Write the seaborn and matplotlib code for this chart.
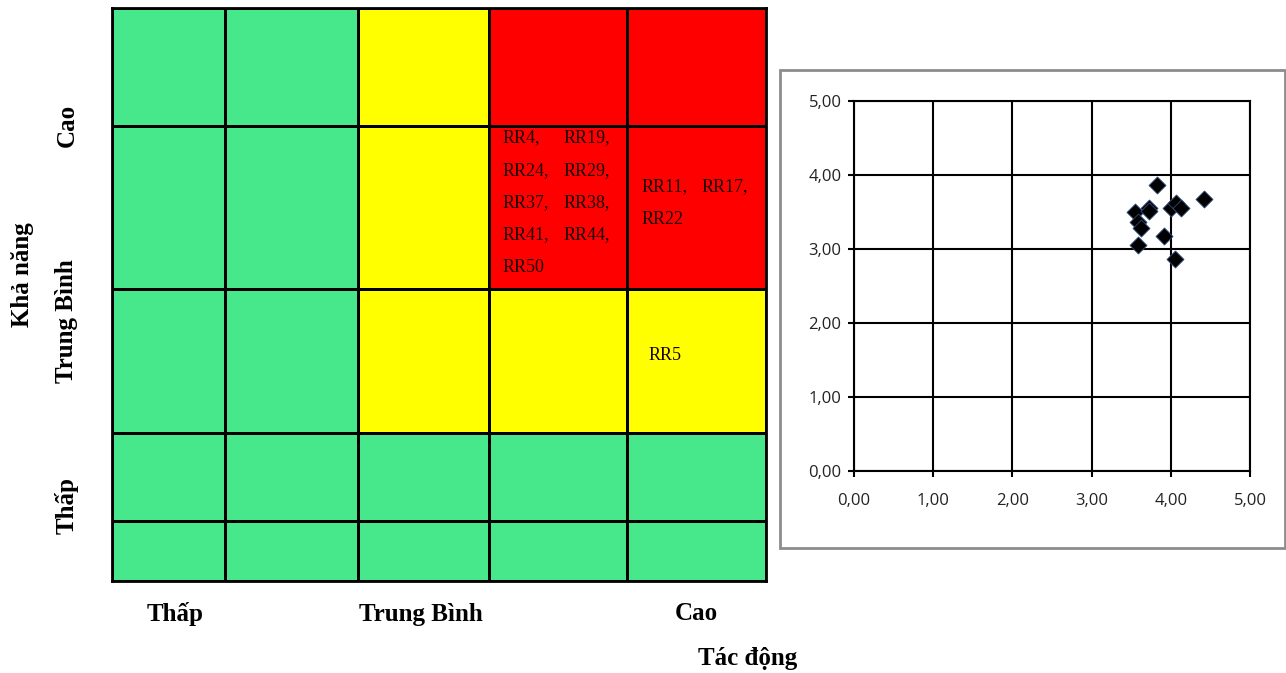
import numpy as np
import matplotlib
matplotlib.use('Agg')
from matplotlib import pyplot as plt
from matplotlib.colors import ListedColormap
from matplotlib.patches import Rectangle
import seaborn as sns

"""
Data
"""
# risk matrix levels, top row first: 0 = green, 1 = yellow, 2 = red
matrix_levels = [[0, 0, 1, 2, 2],
                 [0, 0, 1, 2, 2],
                 [0, 0, 1, 1, 1],
                 [0, 0, 0, 0, 0],
                 [0, 0, 0, 0, 0]]
impact_labels = ['Thấp', 'Trung Bình', 'Cao']
likelihood_labels = ['Cao', 'Trung Bình', 'Thấp']
risks_mid_high = ['RR4,', 'RR19,', 'RR24,', 'RR29,', 'RR37,', 'RR38,',
                  'RR41,', 'RR44,', 'RR50']
risks_high_high = ['RR11,', 'RR17,', 'RR22']
risks_high_mid = ['RR5']

impact_score = [3.83, 4.42, 3.55, 3.73, 3.73, 3.59, 3.62, 3.58, 3.91,
                4.00, 4.06, 4.13, 4.05]
likelihood_score = [3.87, 3.68, 3.50, 3.56, 3.52, 3.36, 3.28, 3.05, 3.17,
                    3.56, 3.62, 3.55, 2.87]

"""
Layout (pixels of the original picture)
"""
col_edges = np.array([0, 113, 246, 377, 515, 654])
row_edges = np.array([0, 118, 281, 425, 513, 573])
colors = ['#46E88B', '#FFFF00', '#FF0000']

W, H = 1286, 673
fig = plt.figure(figsize=(W / 100, H / 100), dpi=100)
serif = ['Liberation Serif', 'DejaVu Serif']

"""
Risk matrix
"""
ax = fig.add_axes([112 / W, 1 - 581 / H, 654 / W, 573 / H])
ax.pcolormesh(col_edges, row_edges, np.array(matrix_levels),
              cmap=ListedColormap(colors), vmin=-.5, vmax=2.5,
              edgecolors='black', linewidth=2)
ax.set_xlim(0, 654)
ax.set_ylim(573, 0)
ax.set_xticks([])
ax.set_yticks([])
for s in ax.spines.values():
    s.set_linewidth(2)

txt = dict(family=serif, fontsize=13, color='#1a0000', va='center')
for i, r in enumerate(risks_mid_high):
    ax.text(391 + (i % 2) * 61, 130 + (i // 2) * 32.3, r, **txt)
for i, r in enumerate(risks_high_high):
    ax.text(530 + (i % 2) * 60, 179 + (i // 2) * 32, r, **txt)
ax.text(537, 347, risks_high_mid[0], **txt)

lab = dict(family=serif, fontsize=18, fontweight='bold', ha='center',
           va='center')
for lbl, px in zip(impact_labels, [175, 421, 696]):
    fig.text(px / W, 1 - 614 / H, lbl, **lab)
fig.text(748 / W, 1 - 658 / H, 'Tác động', **lab)
for lbl, py in zip(likelihood_labels, [125, 321, 505]):
    fig.text(67 / W, 1 - py / H, lbl, rotation=90, **lab)
fig.text(23 / W, 1 - 275 / H, 'Khả năng', rotation=90, **lab)

"""
Scatter
"""
fig.add_artist(Rectangle((780 / W, 1 - 548 / H), 505 / W, 478 / H,
                         transform=fig.transFigure, fill=False,
                         edgecolor='#8c8c8c', linewidth=2))
ax2 = fig.add_axes([854 / W, 1 - 471 / H, 396 / W, 370 / H])
sns.scatterplot(x=impact_score, y=likelihood_score, marker='D', s=75,
                color='black', edgecolor='#2b4a7a', linewidth=.6, ax=ax2,
                zorder=3)
ax2.set_xlim(0, 5)
ax2.set_ylim(0, 5)
ticks = [0, 1, 2, 3, 4, 5]
ax2.set_xticks(ticks)
ax2.set_yticks(ticks)
ax2.set_xticklabels([f'{t:.2f}'.replace('.', ',') for t in ticks])
ax2.set_yticklabels([f'{t:.2f}'.replace('.', ',') for t in ticks])
ax2.grid(True, color='black', linewidth=1.5)
ax2.set_axisbelow(True)
for s in ax2.spines.values():
    s.set_linewidth(1.5)
ax2.tick_params(length=4, width=1.5, color='black', labelsize=12,
                labelcolor='#222222', pad=5)
for t in ax2.get_xticklabels() + ax2.get_yticklabels():
    t.set_family(['Open Sans', 'DejaVu Sans'])
ax2.tick_params(axis='x', pad=12)

plt.savefig('out.png', dpi=100)
